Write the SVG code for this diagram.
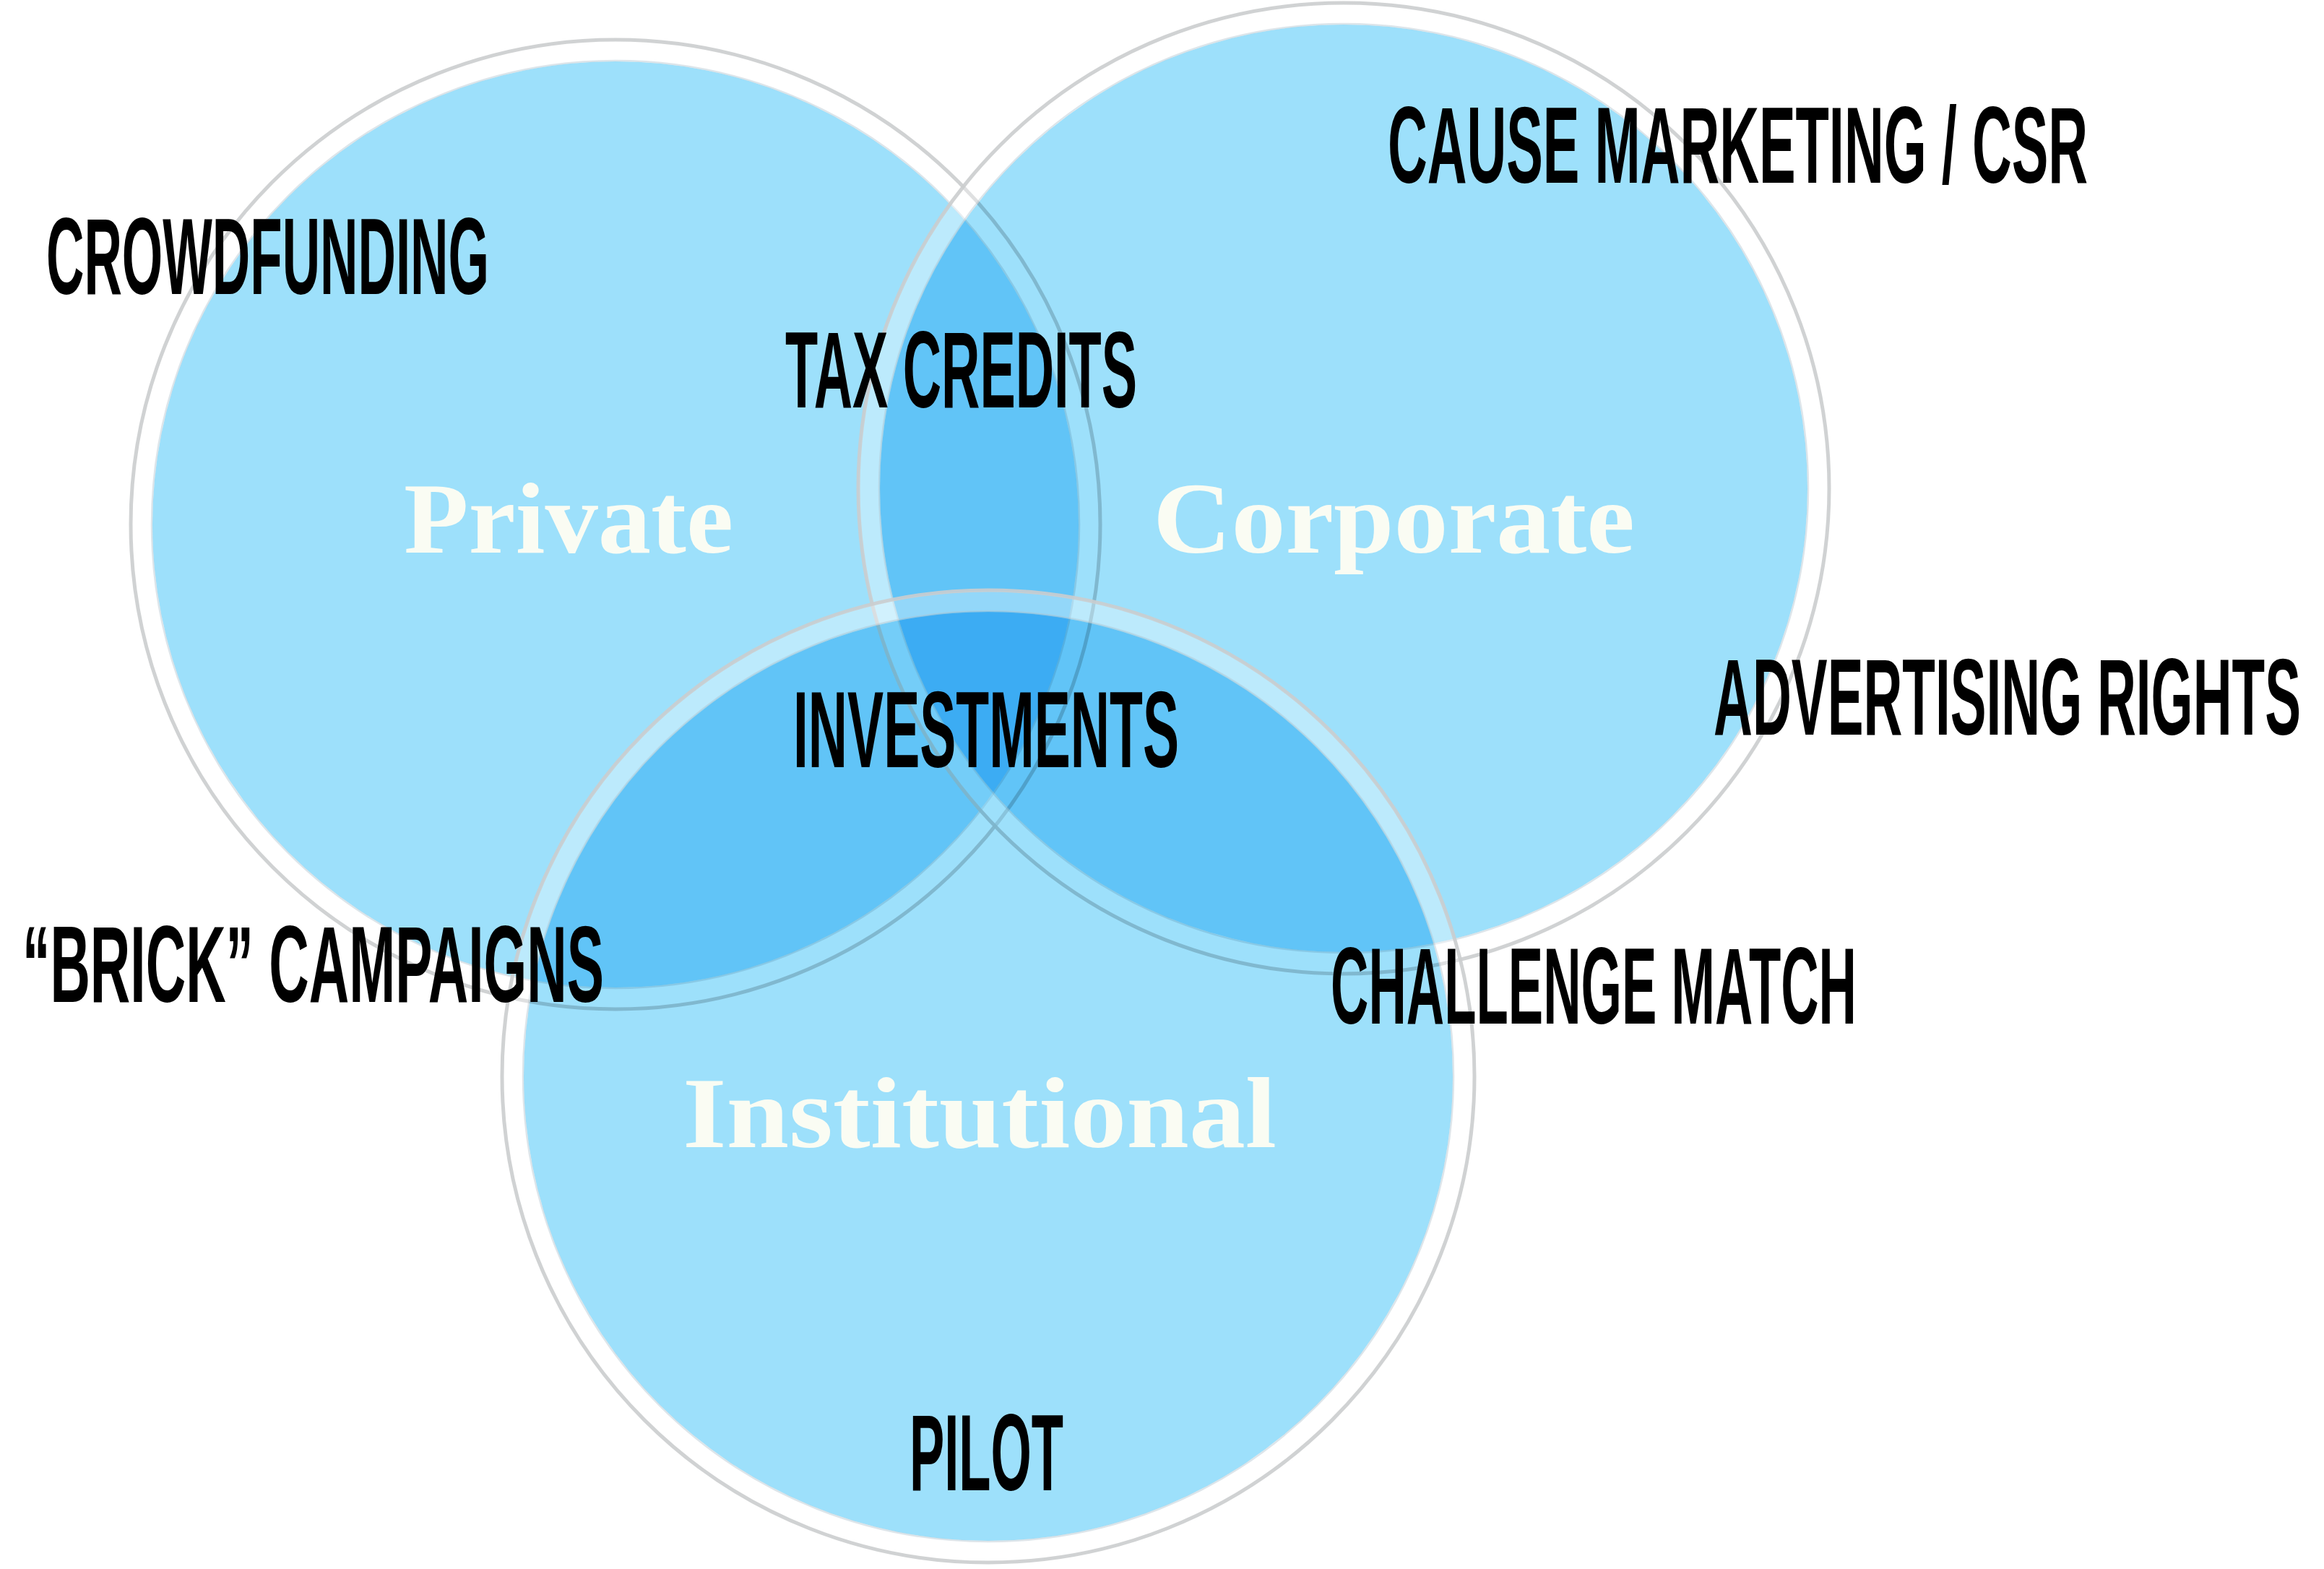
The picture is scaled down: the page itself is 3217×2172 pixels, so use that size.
<svg xmlns="http://www.w3.org/2000/svg" width="3217" height="2172" viewBox="0 0 3217 2172">
<style>
.fill{fill:#9de0fb;mix-blend-mode:multiply}
.band{fill:none;stroke:#ffffff;stroke-width:28;stroke-opacity:0.32}
.edge{fill:none;stroke:#cbcdce;stroke-width:5;stroke-opacity:0.9}
.inner{fill:none;stroke:#b4c6d0;stroke-width:2.5;stroke-opacity:0.45}
.set{font-family:"Liberation Serif","DejaVu Serif",serif;font-weight:bold;font-size:140px;fill:#fffdf2;fill-opacity:0.95}
.lbl{font-family:"Liberation Sans",Arial,sans-serif;font-weight:bold;font-size:151px;fill:#000000}
</style>
<rect x="0" y="0" width="3217" height="2172" fill="#ffffff"/>
<g id="node-private">
<circle class="fill" cx="852" cy="726" r="641"/>
<circle class="band" cx="852" cy="726" r="656"/>
<circle class="inner" cx="852" cy="726" r="642"/>
<circle class="edge" cx="852" cy="726" r="671"/>
<text class="set" x="559" y="765" textLength="456" lengthAdjust="spacingAndGlyphs">Private</text>
</g>
<g id="node-corporate">
<circle class="fill" cx="1860" cy="676" r="642"/>
<circle class="band" cx="1860" cy="676" r="657"/>
<circle class="inner" cx="1860" cy="676" r="643"/>
<circle class="edge" cx="1860" cy="676" r="672"/>
<text class="set" x="1596" y="765" textLength="667" lengthAdjust="spacingAndGlyphs">Corporate</text>
</g>
<g id="node-institutional">
<circle class="fill" cx="1368" cy="1490" r="643"/>
<circle class="band" cx="1368" cy="1490" r="658"/>
<circle class="inner" cx="1368" cy="1490" r="644"/>
<circle class="edge" cx="1368" cy="1490" r="673"/>
<text class="set" x="945" y="1588" textLength="822" lengthAdjust="spacingAndGlyphs">Institutional</text>
</g>
<g id="labels">
<text id="lbl-crowdfunding" class="lbl" transform="translate(64,407) scale(0.5,1)" x="0" y="0" textLength="1226" lengthAdjust="spacingAndGlyphs">CROWDFUNDING</text>
<text id="lbl-tax" class="lbl" transform="translate(1087,564) scale(0.5,1)" x="0" y="0" textLength="974" lengthAdjust="spacingAndGlyphs">TAX CREDITS</text>
<text id="lbl-investments" class="lbl" transform="translate(1098,1062) scale(0.5,1)" x="0" y="0" textLength="1068" lengthAdjust="spacingAndGlyphs">INVESTMENTS</text>
<text id="lbl-cause" class="lbl" transform="translate(1921,253) scale(0.5,1)" x="0" y="0" textLength="1938" lengthAdjust="spacingAndGlyphs">CAUSE MARKETING / CSR</text>
<text id="lbl-advertising" class="lbl" transform="translate(2372,1017) scale(0.5,1)" x="0" y="0" textLength="1626" lengthAdjust="spacingAndGlyphs">ADVERTISING RIGHTS</text>
<text id="lbl-brick" class="lbl" transform="translate(31,1387) scale(0.5,1)" x="0" y="0" textLength="1610" lengthAdjust="spacingAndGlyphs">“BRICK” CAMPAIGNS</text>
<text id="lbl-challenge" class="lbl" transform="translate(1842,1417) scale(0.5,1)" x="0" y="0" textLength="1456" lengthAdjust="spacingAndGlyphs">CHALLENGE MATCH</text>
<text id="lbl-pilot" class="lbl" transform="translate(1259,2063) scale(0.5,1)" x="0" y="0" textLength="426" lengthAdjust="spacingAndGlyphs">PILOT</text>
</g>
</svg>
